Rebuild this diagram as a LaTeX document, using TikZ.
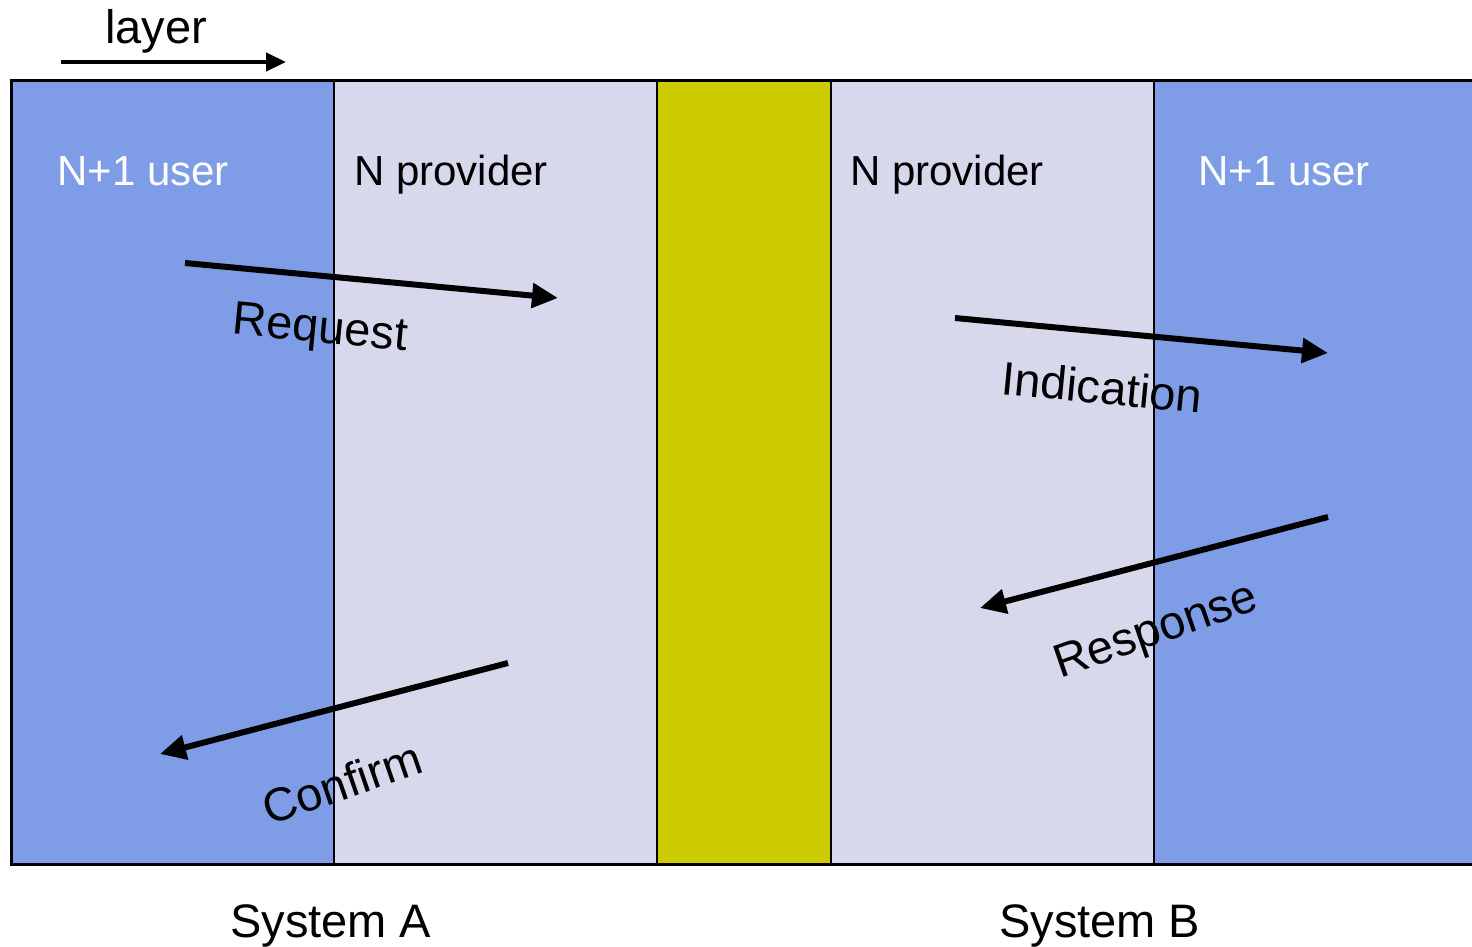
\documentclass[tikz,border=0pt]{standalone}
\usepackage{fontspec}
\setmainfont{Liberation Sans}
\usetikzlibrary{arrows.meta}
\definecolor{userblue}{RGB}{127,157,230}
\definecolor{provlav}{RGB}{216,216,236}
\definecolor{linkyel}{RGB}{204,204,0}
\tikzset{
  lbl/.style={font=\fontsize{42}{48}\selectfont, inner sep=0pt},
  big/.style={font=\fontsize{47}{54}\selectfont, inner sep=0pt},
  wlbl/.style={lbl, text=white},
  flow/.style={line width=6pt, -{Triangle[length=26pt,width=24pt]}},
}
\begin{document}
\begin{tikzpicture}[x=1pt,y=-1pt]
\useasboundingbox (0,0) rectangle (1472,946);
% columns
\fill[userblue] (11,80) rectangle (334,864);
\fill[provlav] (334,80) rectangle (657,864);
\fill[linkyel] (657,80) rectangle (831,864);
\fill[provlav] (831,80) rectangle (1154,864);
\fill[userblue] (1154,80) rectangle (1480,864);
\draw[line width=1.5pt] (334,80) -- (334,864);
\draw[line width=2.5pt] (657,80) -- (657,864);
\draw[line width=2.5pt] (831,80) -- (831,864);
\draw[line width=1.5pt] (1154,80) -- (1154,864);
\draw[line width=3pt] (1480,80) -- (11,80) -- (11,864) -- (1480,864);
% column labels
\node[wlbl, anchor=base west] (ua) at (57,185) {N+1 user};
\node[lbl, anchor=base west] (pa) at (354,185) {N provider};
\node[lbl, anchor=base west] (pb) at (850,185) {N provider};
\node[wlbl, anchor=base west] (ub) at (1198,185) {N+1 user};
% layer arrow
\node[big, anchor=base west] (layer) at (105,43) {layer};
\coordinate (l1) at (61,62);
\coordinate (l2) at (286,62);
\draw[line width=4.5pt, -{Triangle[length=20pt,width=18pt]}] (l1) -- (l2);
% flows
\coordinate (rq1) at (185,263);
\coordinate (rq2) at (558,298);
\draw[flow] (rq1) -- (rq2);
\node[big, rotate=-5.5] (rq) at (320,331) {Request};
\coordinate (in1) at (955,318);
\coordinate (in2) at (1328,353);
\draw[flow] (in1) -- (in2);
\node[big, rotate=-5.5] (ind) at (1102,387) {Indication};
\coordinate (rs1) at (1328,517);
\coordinate (rs2) at (980,608);
\draw[flow] (rs1) -- (rs2);
\node[big, rotate=19] (rs) at (1157,633) {Response};
\coordinate (cf1) at (508,663);
\coordinate (cf2) at (160,754);
\draw[flow] (cf1) -- (cf2);
\node[big, rotate=19] (cf) at (342,783) {Confirm};
% systems
\node[big, anchor=base west] (sa) at (230,937) {System A};
\node[big, anchor=base west] (sb) at (999,937) {System B};
\end{tikzpicture}
\end{document}
